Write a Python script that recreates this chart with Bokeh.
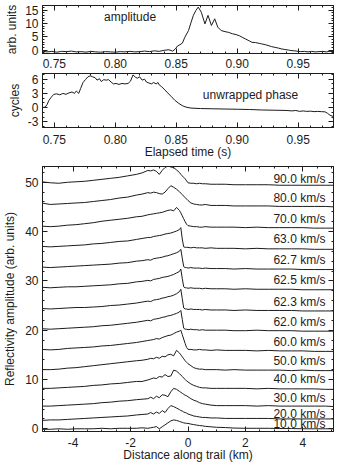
from bokeh.plotting import figure
from bokeh.layouts import column
from bokeh.models import (Range1d, LinearAxis, SingleIntervalTicker, PrintfTickFormatter,
                          CustomLabelingPolicy)
from bokeh.core.properties import value
from bokeh.embed import file_html
from bokeh.resources import INLINE

# ---------------------------------------------------------------- data
# Head echo amplitude vs elapsed time
amp_time = [0.740, 0.744, 0.748, 0.752, 0.756, 0.760, 0.764, 0.768, 0.772, 0.776,
            0.780, 0.784, 0.788, 0.792, 0.796, 0.800, 0.804, 0.808, 0.812, 0.816,
            0.820, 0.824, 0.828, 0.832, 0.836, 0.840, 0.844,
            0.847, 0.849, 0.851, 0.853, 0.855, 0.857,
            0.860, 0.862, 0.864, 0.866, 0.868,
            0.8705, 0.8735, 0.876, 0.8788, 0.8815, 0.884, 0.8868,
            0.890, 0.893, 0.896, 0.899, 0.902,
            0.904, 0.907, 0.910, 0.912, 0.915, 0.918, 0.920,
            0.923, 0.926, 0.928, 0.931, 0.934, 0.936, 0.939, 0.942, 0.944,
            0.947, 0.950, 0.952, 0.955, 0.958, 0.961, 0.964, 0.967, 0.970, 0.973, 0.976, 0.979]
amp_value = [-0.4, -0.7, -0.5, -0.8, -0.5, -0.6, -0.4, -0.7, -0.6, -0.8,
             -0.5, -0.7, -0.8, -0.6, -0.7, -0.8, -0.6, -0.7, -0.5, -0.7,
             -0.6, -0.4, -0.6, -0.3, -0.5, -0.1, 0.1,
             -0.4, 0.3, 1.5, 2.0, 2.6, 4.8,
             7.3, 10.2, 13.0, 14.8, 16.1,
             14.2, 9.8, 13.0, 9.2, 11.7, 8.6, 7.3,
             6.9, 6.6, 6.1, 5.8, 5.3,
             4.8, 4.1, 3.4, 2.9, 2.8, 2.5, 2.3,
             2.0, 1.6, 1.3, 1.0, 0.7, 0.45, 0.2, 0.0, -0.2,
             -0.3, -0.5, -0.6, -0.5, -0.7, -0.5, -0.7, -0.6, -0.5, -0.7, -0.5, -0.6]

# Unwrapped phase (cycles) vs elapsed time
phase_time = [0.7400, 0.7425, 0.7440, 0.7455, 0.7475, 0.7495, 0.7520, 0.7545, 0.7570, 0.7595,
              0.7620, 0.7645, 0.7665, 0.7680, 0.7700, 0.7715, 0.7735, 0.7755, 0.7775, 0.7795,
              0.7815, 0.7835, 0.7850, 0.7870, 0.7885, 0.7905, 0.7925, 0.7945, 0.7965, 0.7985,
              0.8005, 0.8030, 0.8055, 0.8080, 0.8105, 0.8125, 0.8145, 0.8165, 0.8180, 0.8200,
              0.8220, 0.8240, 0.8255, 0.8275, 0.8295, 0.8315, 0.8335, 0.8350, 0.8360, 0.8380,
              0.8400, 0.8430, 0.8460, 0.8490, 0.8520, 0.8550, 0.8580, 0.8620, 0.8700, 0.8800,
              0.8900, 0.9000, 0.9100, 0.9200, 0.9300, 0.9400, 0.9450, 0.9480, 0.9510, 0.9540,
              0.9570, 0.9600, 0.9630, 0.9660, 0.9690, 0.9720, 0.9740, 0.9760, 0.9790, 0.9800]
phase_cycles = [0.0, 0.1, 0.6, 1.5, 2.2, 2.8, 2.9, 2.7, 3.0, 2.8,
                3.1, 3.3, 3.0, 3.5, 3.0, 4.0, 5.3, 5.9, 6.5, 6.7,
                6.5, 6.3, 5.8, 6.1, 5.5, 5.9, 5.8, 5.9, 5.4, 5.0,
                5.1, 4.9, 5.1, 5.0, 5.1, 5.6, 6.9, 6.4, 6.2, 6.5,
                5.8, 6.0, 5.4, 5.2, 5.0, 5.3, 5.0, 5.3, 4.8, 4.4,
                3.9, 3.1, 2.3, 1.5, 0.9, 0.4, 0.1, -0.1, -0.2, -0.25,
                -0.3, -0.35, -0.4, -0.5, -0.55, -0.6, -0.7, -0.6, -0.8, -0.7,
                -0.8, -0.75, -0.85, -0.8, -0.85, -0.9, -1.2, -1.6, -1.9, -2.0]

# Simulated reflectivity profiles along the trail, one per meteoroid speed
dist_km = [-5.1, -4.8, -4.5, -4.2, -3.9, -3.6, -3.3, -3.0, -2.7, -2.4,
           -2.1, -1.8, -1.6, -1.4, -1.3, -1.2, -1.1, -1.0, -0.9, -0.8,
           -0.7, -0.6, -0.5, -0.4, -0.3, -0.25, -0.2, -0.15, -0.1, -0.05,
           0.0, 0.1, 0.2, 0.3, 0.4, 0.5, 0.6, 0.8, 1.0, 1.3,
           1.6, 2.0, 2.4, 2.8, 3.2, 3.6, 4.0, 4.4, 4.8, 5.1]

refl_90 = [50.1, 49.9, 49.8, 50.0, 50.1, 50.2, 50.4, 50.6, 50.8, 51.0,
           51.3, 51.6, 51.9, 52.4, 52.3, 52.5, 52.2, 51.6, 52.4, 53.0,
           53.3, 53.1, 53.0, 52.5, 52.0, 51.6, 51.3, 51.0, 50.7, 50.3,
           49.9, 49.8, 49.8, 49.7, 49.8, 49.7, 49.7, 49.6, 49.6, 49.6,
           49.5, 49.5, 49.5, 49.5, 49.4, 49.4, 49.4, 49.4, 49.4, 49.4]
refl_80 = [45.8, 45.5, 45.6, 45.7, 45.8, 45.9, 46.1, 46.3, 46.5, 46.8,
           47.0, 47.4, 47.6, 47.9, 47.8, 48.0, 47.9, 47.7, 47.6, 48.0,
           48.7, 49.3, 49.0, 48.6, 48.1, 47.8, 47.5, 47.2, 46.9, 46.6,
           46.3, 45.8, 45.6, 45.5, 45.4, 45.4, 45.5, 45.3, 45.3, 45.3,
           45.2, 45.2, 45.2, 45.2, 45.1, 45.1, 45.1, 45.1, 45.1, 45.0]
refl_70 = [41.1, 41.0, 41.1, 41.3, 41.4, 41.6, 41.8, 42.1, 42.3, 42.5,
           42.7, 43.0, 43.1, 43.4, 43.5, 43.6, 43.7, 43.8, 43.9, 44.1,
           44.3, 44.4, 44.2, 44.9, 44.3, 43.8, 43.2, 42.6, 42.0, 41.5,
           41.2, 41.1, 41.0, 41.0, 40.9, 40.9, 41.0, 40.9, 40.9, 40.9,
           40.9, 40.8, 40.9, 40.8, 40.8, 40.8, 40.8, 40.7, 40.7, 40.7]
refl_630 = [37.0, 36.9, 37.0, 37.1, 37.2, 37.3, 37.5, 37.6, 37.8, 38.0,
            38.1, 38.4, 38.6, 38.8, 38.8, 39.0, 39.1, 39.2, 39.3, 39.5,
            39.6, 39.7, 39.9, 40.1, 40.4, 40.8, 38.5, 36.9, 36.8, 36.8,
            36.8, 36.7, 36.8, 36.7, 36.7, 36.7, 36.6, 36.7, 36.6, 36.6,
            36.6, 36.5, 36.6, 36.5, 36.5, 36.5, 36.5, 36.4, 36.4, 36.4]
refl_627 = [32.8, 32.7, 32.8, 32.9, 33.0, 33.1, 33.2, 33.3, 33.4, 33.6,
            33.7, 34.0, 34.1, 34.3, 34.2, 34.5, 34.6, 34.7, 34.8, 35.0,
            35.1, 35.3, 35.5, 35.7, 36.0, 36.4, 34.6, 32.9, 32.7, 32.7,
            32.6, 32.7, 32.6, 32.6, 32.6, 32.5, 32.6, 32.5, 32.5, 32.5,
            32.4, 32.5, 32.4, 32.4, 32.4, 32.4, 32.3, 32.3, 32.3, 32.3]
refl_625 = [28.7, 28.6, 28.7, 28.8, 28.8, 28.9, 29.0, 29.1, 29.2, 29.4,
            29.5, 29.8, 29.9, 30.1, 30.0, 30.3, 30.4, 30.5, 30.7, 30.8,
            30.9, 31.1, 31.3, 31.6, 31.9, 32.4, 30.5, 28.8, 28.6, 28.6,
            28.5, 28.6, 28.5, 28.5, 28.5, 28.4, 28.5, 28.4, 28.4, 28.4,
            28.3, 28.4, 28.3, 28.3, 28.3, 28.3, 28.2, 28.2, 28.2, 28.2]
refl_623 = [24.4, 24.3, 24.4, 24.5, 24.6, 24.6, 24.7, 24.8, 25.0, 25.1,
            25.3, 25.5, 25.7, 25.9, 25.8, 26.1, 26.2, 26.3, 26.5, 26.6,
            26.8, 26.9, 27.1, 27.4, 27.8, 28.3, 26.4, 24.5, 24.3, 24.3,
            24.2, 24.3, 24.2, 24.2, 24.2, 24.1, 24.2, 24.1, 24.1, 24.1,
            24.0, 24.1, 24.0, 24.0, 24.0, 24.0, 23.9, 23.9, 23.9, 23.9]
refl_620 = [20.3, 20.2, 20.3, 20.4, 20.5, 20.6, 20.7, 20.9, 21.0, 21.2,
            21.4, 21.6, 21.8, 22.0, 21.9, 22.2, 22.3, 22.4, 22.6, 22.7,
            22.9, 23.0, 23.2, 23.4, 23.7, 24.0, 22.2, 20.4, 20.2, 20.2,
            20.1, 20.2, 20.1, 20.1, 20.0, 20.1, 20.0, 20.0, 20.0, 20.0,
            19.9, 19.9, 20.0, 19.9, 19.9, 19.9, 19.8, 19.8, 19.8, 19.8]
refl_600 = [16.1, 16.0, 16.1, 16.3, 16.4, 16.5, 16.6, 16.8, 16.9, 17.1,
            17.3, 17.5, 17.7, 17.9, 18.0, 18.1, 18.3, 18.2, 18.5, 18.7,
            18.9, 19.0, 19.3, 19.6, 19.8, 20.0, 19.1, 18.2, 17.3, 16.5,
            16.1, 16.1, 16.0, 16.0, 16.1, 16.0, 16.0, 15.9, 16.0, 15.9,
            15.9, 15.9, 15.8, 15.9, 15.8, 15.8, 15.8, 15.7, 15.7, 15.7]
refl_500 = [12.0, 12.0, 12.1, 12.3, 12.4, 12.6, 12.8, 13.0, 13.2, 13.4,
            13.6, 13.8, 13.9, 14.1, 14.3, 14.2, 14.5, 14.3, 14.7, 14.6,
            15.0, 15.1, 14.8, 15.9, 15.4, 15.0, 14.6, 14.2, 13.8, 13.5,
            13.2, 12.8, 12.4, 12.2, 12.1, 12.1, 12.0, 12.0, 12.0, 11.9,
            12.0, 11.9, 11.9, 11.9, 11.9, 11.8, 11.9, 11.8, 11.8, 11.8]
refl_400 = [8.2, 8.2, 8.3, 8.4, 8.5, 8.6, 8.8, 8.9, 9.1, 9.2,
            9.4, 9.6, 9.6, 9.9, 10.1, 10.3, 10.2, 10.6, 10.5, 11.0,
            10.6, 10.7, 11.9, 11.7, 11.2, 10.9, 10.6, 10.3, 10.0, 9.7,
            9.5, 9.1, 8.8, 8.6, 8.4, 8.3, 8.3, 8.2, 8.2, 8.2,
            8.2, 8.2, 8.1, 8.2, 8.1, 8.1, 8.1, 8.1, 8.0, 8.0]
refl_300 = [4.6, 4.6, 4.7, 4.8, 4.9, 5.0, 5.1, 5.3, 5.4, 5.6,
            5.7, 5.9, 6.0, 6.1, 6.4, 6.1, 6.6, 6.3, 6.9, 6.8,
            6.5, 7.5, 8.2, 8.0, 7.6, 7.4, 7.2, 7.0, 6.8, 6.7,
            6.5, 6.1, 5.8, 5.6, 5.3, 5.1, 5.0, 4.8, 4.7, 4.7,
            4.7, 4.7, 4.6, 4.7, 4.6, 4.6, 4.6, 4.6, 4.6, 4.5]
refl_200 = [1.7, 1.8, 1.8, 1.9, 2.0, 2.1, 2.2, 2.3, 2.4, 2.5,
            2.6, 2.8, 2.9, 3.0, 3.3, 3.0, 3.4, 3.1, 3.7, 3.3,
            4.1, 4.7, 4.5, 4.2, 3.9, 3.7, 3.6, 3.4, 3.3, 3.2,
            3.0, 2.8, 2.6, 2.5, 2.4, 2.3, 2.3, 2.2, 2.2, 2.1,
            2.1, 2.1, 2.1, 2.1, 2.0, 2.0, 2.0, 2.0, 2.0, 2.0]
refl_100 = [-0.1, -0.1, 0.0, -0.1, 0.0, 0.0, 0.0, 0.1, 0.0, 0.1,
            0.1, 0.1, 0.2, 0.1, 0.2, 0.3, 0.45, 0.0, 0.4, 0.8,
            1.2, 1.6, 1.8, 1.7, 1.5, 1.4, 1.3, 1.2, 1.15, 1.1,
            1.1, 0.95, 0.85, 0.75, 0.65, 0.6, 0.5, 0.4, 0.3, 0.25,
            0.15, 0.1, 0.1, 0.1, 0.05, 0.05, 0.0, 0.0, 0.0, 0.0]

speed_labels = ["90.0 km/s", "80.0 km/s", "70.0 km/s", "63.0 km/s", "62.7 km/s",
                "62.5 km/s", "62.3 km/s", "62.0 km/s", "60.0 km/s", "50.0 km/s",
                "40.0 km/s", "30.0 km/s", "20.0 km/s", "10.0 km/s"]
profiles = [refl_90, refl_80, refl_70, refl_630, refl_627, refl_625, refl_623,
            refl_620, refl_600, refl_500, refl_400, refl_300, refl_200, refl_100]

# ---------------------------------------------------------------- style
FONT = "Liberation Sans"
INK = "#1c1c1c"
FS = "12px"

# mirrored axes on top/right carry ticks only, no labels
NO_LABELS = CustomLabelingPolicy(code="""
    for (const i of indices) {
        indices.unset(i)
    }
    return indices
""")


def framed(p, xticker, yticker, xfmt, yfmt, ylabel, xlabel=None,
           ylabel_standoff=3, xlabel_standoff=-2, tick_standoff=7):
    """IDL-style boxed axes: inward ticks on all four sides."""
    p.grid.visible = False
    p.outline_line_color = INK
    p.background_fill_color = "white"
    p.border_fill_color = "white"
    bottom = p.below[0]
    left = p.left[0]
    bottom.ticker = xticker
    left.ticker = yticker
    bottom.formatter = xfmt
    left.formatter = yfmt
    top = LinearAxis(ticker=xticker, major_label_policy=NO_LABELS)
    right = LinearAxis(ticker=yticker, major_label_policy=NO_LABELS)
    p.add_layout(top, "above")
    p.add_layout(right, "right")
    for ax in (bottom, left, top, right):
        ax.axis_line_color = INK
        ax.major_tick_line_color = INK
        ax.minor_tick_line_color = INK
        ax.major_tick_in = 5
        ax.major_tick_out = 0
        ax.minor_tick_in = 2
        ax.minor_tick_out = 0
        ax.major_label_text_font = FONT
        ax.major_label_text_font_size = FS
        ax.major_label_text_color = INK
        ax.axis_label_text_font = FONT
        ax.axis_label_text_font_size = FS
        ax.axis_label_text_font_style = "normal"
        ax.axis_label_text_color = INK
    for ax in (top, right):
        ax.major_label_text_font_size = "0px"
        ax.major_label_standoff = 0
    bottom.major_label_standoff = tick_standoff
    left.major_label_standoff = 4
    left.axis_label = ylabel
    left.axis_label_standoff = ylabel_standoff
    if xlabel:
        bottom.axis_label = xlabel
        bottom.axis_label_standoff = xlabel_standoff


common = dict(width=339, output_backend="svg", toolbar_location=None,
              min_border_left=36, min_border_right=6)

# ---- amplitude vs time
p1 = figure(height=72, x_range=Range1d(0.7403, 0.9789), y_range=Range1d(-1.3, 16.7),
            min_border_top=5, min_border_bottom=19, **common)
framed(p1, SingleIntervalTicker(interval=0.05, num_minor_ticks=5),
       SingleIntervalTicker(interval=5, num_minor_ticks=5),
       PrintfTickFormatter(format="%.2f"), PrintfTickFormatter(format="%d"),
       "arb. units", tick_standoff=5)
p1.line(amp_time, amp_value, line_color=INK, line_width=1)
p1.text(x=[0.8121], y=[12.5], text=["amplitude"], text_align="center",
        text_baseline="middle", text_font=value(FONT), text_font_size=FS,
        text_color=INK)

# ---- unwrapped phase vs time
p2 = figure(height=89, x_range=Range1d(0.7403, 0.9789), y_range=Range1d(-4.2, 7.2),
            min_border_top=1, min_border_bottom=32, **common)
framed(p2, SingleIntervalTicker(interval=0.05, num_minor_ticks=5),
       SingleIntervalTicker(interval=3, num_minor_ticks=3),
       PrintfTickFormatter(format="%.2f"), PrintfTickFormatter(format="%d"),
       "cycles", xlabel="Elapsed time (s)", tick_standoff=7, xlabel_standoff=-2)
p2.line(phase_time, phase_cycles, line_color=INK, line_width=1)
p2.text(x=[0.9109], y=[2.65], text=["unwrapped phase"], text_align="center",
        text_baseline="middle", text_font=value(FONT), text_font_size=FS,
        text_color=INK)

# ---- reflectivity profiles vs distance along trail
p3 = figure(height=303, x_range=Range1d(-5.07, 5.07), y_range=Range1d(-0.55, 53.2),
            min_border_top=5, min_border_bottom=31, **common)
framed(p3, SingleIntervalTicker(interval=2, num_minor_ticks=4),
       SingleIntervalTicker(interval=10, num_minor_ticks=5),
       PrintfTickFormatter(format="%d"), PrintfTickFormatter(format="%d"),
       "Reflectivity amplitude (arb. units)", xlabel="Distance along trail (km)",
       ylabel_standoff=5, tick_standoff=6, xlabel_standoff=-2)
for prof in profiles:
    p3.line(dist_km, prof, line_color=INK, line_width=1)

# speed labels sit just above the flat right-hand end of each profile
label_y = [50.7, 46.8, 42.6, 38.4, 34.3, 30.1, 25.8, 21.7, 17.7, 13.7, 10.0, 6.3, 3.1, 1.0]
p3.text(x=[4.79] * len(speed_labels), y=label_y, text=speed_labels,
        text_align="right", text_baseline="middle", text_font=value(FONT),
        text_font_size=FS, text_color=INK)

layout = column(p1, p2, p3, spacing=0)
open("out.html", "w").write(file_html(layout, INLINE))
